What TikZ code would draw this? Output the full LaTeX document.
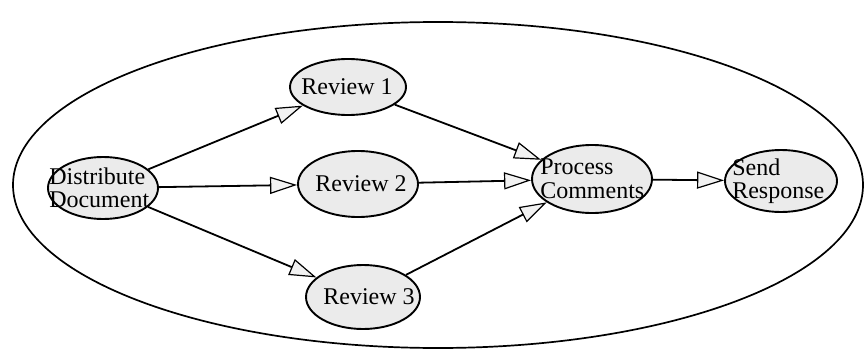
\documentclass[tikz,border=0pt]{standalone}
\usepackage{fontspec}
\setmainfont{Liberation Serif}
\usetikzlibrary{shapes.geometric,arrows.meta}
\tikzset{
  task/.style={draw, ellipse, line width=1.9pt, fill=gray!16, inner sep=0pt},
  label/.style={inner sep=0pt, font=\fontsize{24}{23.5}\selectfont, align=left},
  flow/.style={line width=1.8pt, -{Triangle[length=27pt, width=17pt, fill=gray!10, line width=1.2pt]}},
  boundary/.style={draw, ellipse, line width=1.7pt, inner sep=0pt}
}
\begin{document}
\begin{tikzpicture}[x=1pt, y=-1pt]
  \useasboundingbox (0,0) rectangle (864,353);
  % enclosing process boundary
  \node[boundary, minimum width=850pt, minimum height=326pt] (outer) at (438,185) {};

  % activities
  \node[task, minimum width=110pt, minimum height=62pt] (dd) at (103,188) {};
  \node[task, minimum width=116pt, minimum height=56pt] (r1) at (348,87) {};
  \node[task, minimum width=120pt, minimum height=66pt] (r2) at (358,184) {};
  \node[task, minimum width=114pt, minimum height=64pt] (r3) at (363,297) {};
  \node[task, minimum width=120pt, minimum height=68pt] (pc) at (592,179) {};
  \node[task, minimum width=112pt, minimum height=62pt] (sr) at (781,181) {};

  % labels
  \node[label, anchor=west] (ddt) at ([xshift=2pt]dd.west) {Distribute\\Document};
  \node[label] (r1t) at ([xshift=-1pt]r1.center) {Review 1};
  \node[label] (r2t) at ([xshift=3pt]r2.center) {Review 2};
  \node[label] (r3t) at ([xshift=6pt]r3.center) {Review 3};
  \node[label, anchor=west] (pct) at ([xshift=9pt]pc.west) {Process\\Comments};
  \node[label, anchor=west] (srt) at ([xshift=8pt]sr.west) {Send\\Response};

  % flow
  \draw[flow] (dd) -- (r1);
  \draw[flow] (dd) -- (r2);
  \draw[flow] (dd) -- (r3);
  \draw[flow] (r1) -- (pc);
  \draw[flow] (r2) -- (pc);
  \draw[flow] (r3) -- (pc);
  \draw[flow] (pc) -- (sr);
\end{tikzpicture}
\end{document}
